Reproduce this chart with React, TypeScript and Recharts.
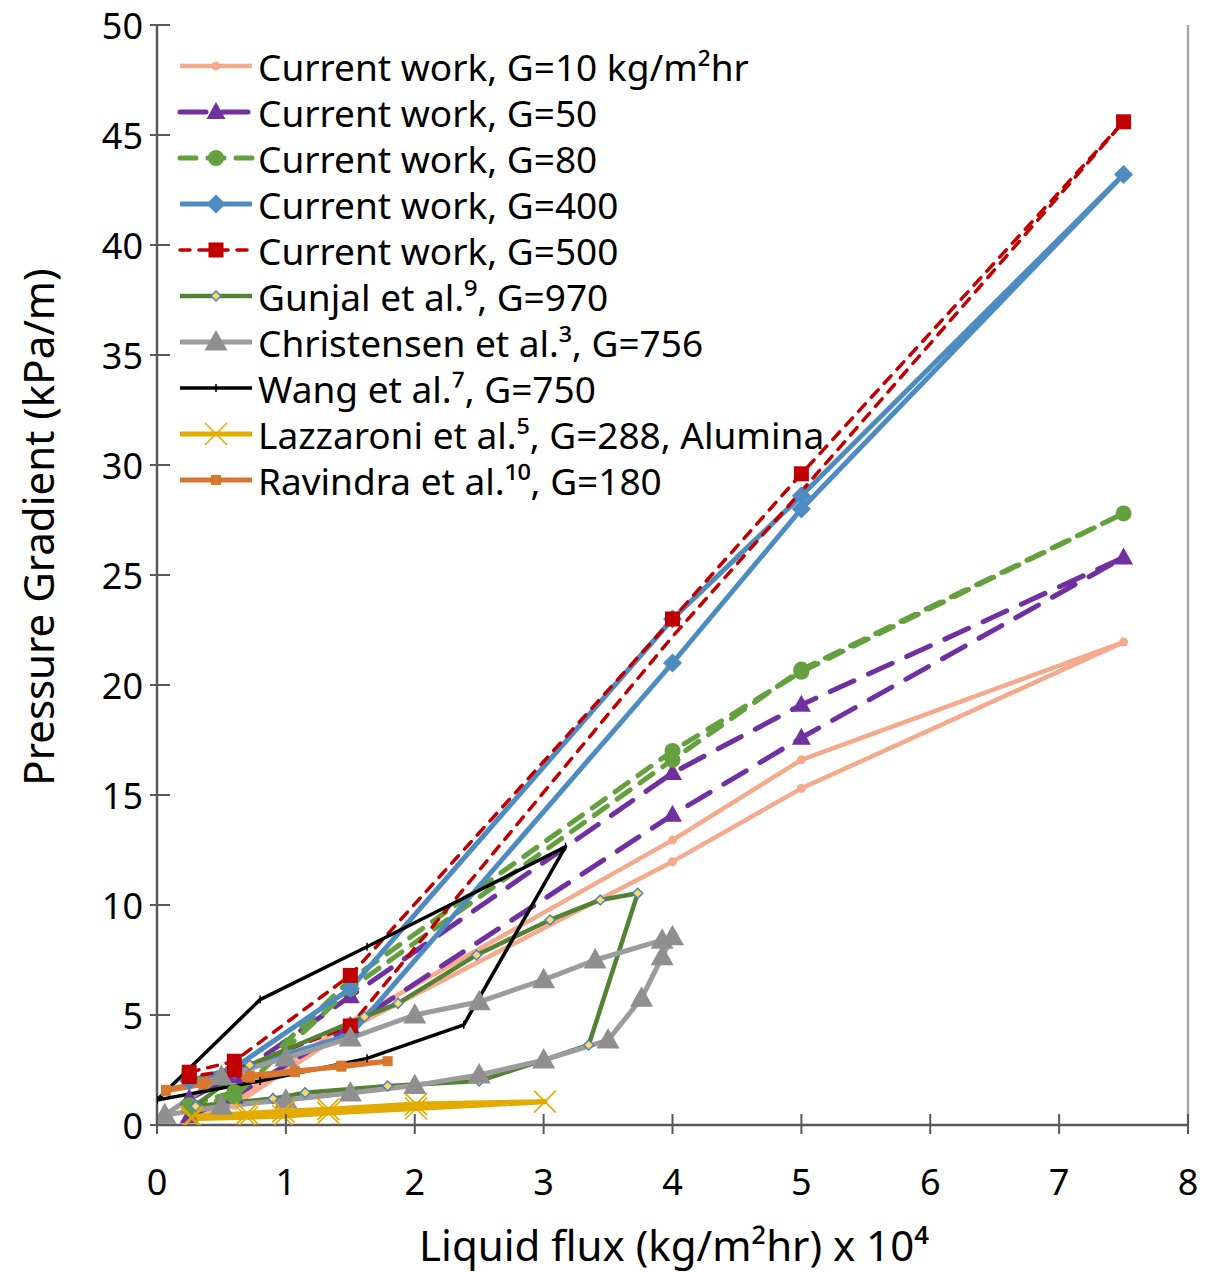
import { LineChart, Line, XAxis, YAxis, ReferenceLine } from 'recharts';

// current work: loading then unloading, same liquid flux steps
const CW_X = [0.25, 0.6, 1.5, 4, 5, 7.5, 5, 4, 1.5, 0.6, 0.25];
const G10_Y = [0.45, 1.1, 4.7, 12.95, 16.6, 21.95, 15.3, 11.97, 4.4, 0.9, 0.35];
const G50_Y = [0.4, 1.3, 4.5, 14.1, 17.6, 25.8, 19.1, 16.0, 5.85, 2.2, 1.2];
const G80_Y = [0.8, 1.3, 6.2, 16.6, 20.7, 27.8, 20.6, 17.0, 6.6, 1.5, 0.9];
const G400_Y = [2.0, 2.6, 6.2, 23.0, 28.6, 43.2, 28.0, 21.0, 4.1, 2.5, 2.0];
const G500_Y = [2.4, 2.9, 6.8, 23.0, 29.6, 45.6, 28.8, 22.2, 4.5, 2.5, 2.2];
// points of the G=500 unloading branch drawn without a marker
const G500_NO_MARK = [6, 7];

const GUN_X = [0.3, 0.72, 1.61, 1.87, 2.48, 3.05, 3.44, 3.73, 3.35, 3.0, 2.5, 1.79, 1.15, 0.9, 0.3];
const GUN_Y = [0.9, 2.73, 4.92, 5.53, 7.73, 9.32, 10.23, 10.53, 3.64, 2.95, 2.0, 1.77, 1.47, 1.2, 0.85];

const CHR_X = [0.06, 0.5, 1.0, 1.5, 2.0, 2.5, 3.0, 3.4, 3.92, 4.0, 3.92, 3.76, 3.5, 3.0, 2.5, 2.0, 1.5, 1.0, 0.5, 0.06];
const CHR_Y = [0.45, 2.2, 3.05, 3.95, 5.0, 5.6, 6.6, 7.5, 8.4, 8.56, 7.65, 5.76, 3.86, 2.95, 2.27, 1.8, 1.45, 1.14, 0.85, 0.45];

const WANG_X = [0, 0.8, 1.63, 3.17, 2.38, 1.63, 0.8, 0];
const WANG_Y = [1.14, 5.7, 8.1, 12.65, 4.55, 3.03, 2.0, 1.14];

const LAZ_X = [0.27, 0.7, 0.98, 1.33, 2.01, 3.01, 2.01, 1.33, 0.98, 0.7, 0.27];
const LAZ_Y = [0.38, 0.53, 0.62, 0.72, 0.95, 1.06, 0.75, 0.55, 0.4, 0.35, 0.28];

const RAV_X = [0.07, 0.36, 0.72, 1.07, 1.43, 1.79, 1.43, 1.07, 0.72, 0.36, 0.07];
const RAV_Y = [1.55, 1.85, 2.15, 2.4, 2.7, 2.9, 2.65, 2.45, 2.25, 1.95, 1.6];

const X_TICKS = [0, 1, 2, 3, 4, 5, 6, 7, 8];
const Y_TICKS = [0, 5, 10, 15, 20, 25, 30, 35, 40, 45, 50];

const FONT = '"Noto Sans", sans-serif';
const AXIS = '#595959';

const pts = (xs: number[], ys: number[]) => xs.map((x, i) => ({ x, y: ys[i] }));

const series = [
  { name: 'Current work, G=10 kg/m²hr', data: pts(CW_X, G10_Y), color: '#F4AA8C', width: 4.5, dash: undefined, mark: 'dot', noMark: [] as number[] },
  { name: 'Current work, G=50', data: pts(CW_X, G50_Y), color: '#7030A0', width: 5, dash: '26 16', mark: 'tri', noMark: [] },
  { name: 'Current work, G=80', data: pts(CW_X, G80_Y), color: '#65A03F', width: 5, dash: '16 12', mark: 'circle', noMark: [] },
  { name: 'Current work, G=400', data: pts(CW_X, G400_Y), color: '#4E8BC1', width: 5, dash: undefined, mark: 'diamond', noMark: [] },
  { name: 'Current work, G=500', data: pts(CW_X, G500_Y), color: '#C00000', width: 3.5, dash: '10 9', mark: 'square', noMark: G500_NO_MARK },
  { name: 'Gunjal et al.⁹, G=970', data: pts(GUN_X, GUN_Y), color: '#548235', width: 4.5, dash: undefined, mark: 'smallDiamond', noMark: [] },
  { name: 'Christensen et al.³, G=756', data: pts(CHR_X, CHR_Y), color: '#9C9C9C', width: 5, dash: undefined, mark: 'bigTri', noMark: [] },
  { name: 'Wang et al.⁷, G=750', data: pts(WANG_X, WANG_Y), color: '#000000', width: 3.5, dash: undefined, mark: 'tick', noMark: [] },
  { name: 'Lazzaroni et al.⁵, G=288, Alumina', data: pts(LAZ_X, LAZ_Y), color: '#E3AB00', width: 5, dash: undefined, mark: 'x', noMark: [] },
  { name: 'Ravindra et al.¹⁰, G=180', data: pts(RAV_X, RAV_Y), color: '#D9772F', width: 5, dash: undefined, mark: 'smallSquare', noMark: [] },
];

function marker(kind: string, cx: number, cy: number, c: string, key?: string) {
  switch (kind) {
    case 'dot':
      return <circle key={key} cx={cx} cy={cy} r={4.5} fill={c} />;
    case 'circle':
      return <circle key={key} cx={cx} cy={cy} r={8} fill={c} />;
    case 'tri':
      return <polygon key={key} points={`${cx},${cy - 10} ${cx + 9.5},${cy + 7} ${cx - 9.5},${cy + 7}`} fill={c} />;
    case 'bigTri':
      return <polygon key={key} points={`${cx},${cy - 12} ${cx + 11.5},${cy + 8.5} ${cx - 11.5},${cy + 8.5}`} fill="#8F8F8F" />;
    case 'diamond':
      return <polygon key={key} points={`${cx},${cy - 9.5} ${cx + 9.5},${cy} ${cx},${cy + 9.5} ${cx - 9.5},${cy}`} fill={c} />;
    case 'square':
      return <rect key={key} x={cx - 7.5} y={cy - 7.5} width={15} height={15} fill={c} />;
    case 'smallDiamond':
      return <polygon key={key} points={`${cx},${cy - 5} ${cx + 5},${cy} ${cx},${cy + 5} ${cx - 5},${cy}`} fill="#FFD966" stroke="#4F81BD" strokeWidth={1.5} />;
    case 'tick':
      return <line key={key} x1={cx} x2={cx} y1={cy - 4} y2={cy + 4} stroke={c} strokeWidth={1.5} />;
    case 'x':
      return (
        <g key={key} stroke={c} strokeWidth={1.6}>
          <line x1={cx - 11} y1={cy - 11} x2={cx + 11} y2={cy + 11} />
          <line x1={cx - 11} y1={cy + 11} x2={cx + 11} y2={cy - 11} />
        </g>
      );
    case 'smallSquare':
      return <rect key={key} x={cx - 5} y={cy - 5} width={10} height={10} fill={c} />;
    default:
      return <g key={key} />;
  }
}

const YTick = (p: any) => {
  const ax = p.x + 14;
  return (
    <g>
      <line x1={ax - 7} x2={ax + 13} y1={p.y} y2={p.y} stroke={AXIS} strokeWidth={2} />
      <text x={p.x} y={p.y} textAnchor="end" dominantBaseline="central" fontSize={36} fontFamily={FONT} fill="#000">
        {p.payload.value}
      </text>
    </g>
  );
};

const XTick = (p: any) => {
  const ay = p.y;
  return (
    <g>
      <line x1={p.x} x2={p.x} y1={ay - 13} y2={ay + 7} stroke={AXIS} strokeWidth={2} />
      <text x={p.x} y={ay + 68} textAnchor="middle" fontSize={36} fontFamily={FONT} fill="#000">
        {p.payload.value}
      </text>
    </g>
  );
};

function ChartLegend() {
  return (
    <svg width={900} height={520} style={{ position: 'absolute', left: 0, top: 0, pointerEvents: 'none' }}>
      {series.map((s, i) => {
        const y = 66 + i * 46;
        return (
          <g key={s.name}>
            <line x1={180} x2={252} y1={y} y2={y} stroke={s.color} strokeWidth={s.width} strokeDasharray={s.dash} strokeLinecap={s.dash ? 'round' : 'butt'} />
            {marker(s.mark, 216, y, s.color)}
            <text x={258} y={y} dominantBaseline="central" fontSize={37} fontFamily={FONT} fill="#000">
              {s.name}
            </text>
          </g>
        );
      })}
    </svg>
  );
}

export default function App() {
  return (
    <div style={{ position: 'relative', width: 1207, height: 1272, margin: '-8px 0 0 -8px' }}>
      <LineChart width={1207} height={1272} margin={{ top: 25, right: 19, left: 57, bottom: 67 }}>
        <XAxis
          type="number"
          dataKey="x"
          domain={[0, 8]}
          ticks={X_TICKS}
          allowDataOverflow
          height={80}
          tickSize={0}
          tickLine={false}
          tick={<XTick />}
          axisLine={{ stroke: AXIS, strokeWidth: 2.5 }}
          label={{
            content: () => (
              <text x={674} y={1244} textAnchor="middle" dominantBaseline="central" fontSize={42} fontFamily={FONT} fill="#000">
                Liquid flux (kg/m²hr) x 10⁴
              </text>
            ),
          }}
        />
        <YAxis
          type="number"
          domain={[0, 50]}
          ticks={Y_TICKS}
          allowDataOverflow
          width={100}
          tickSize={0}
          tickMargin={14}
          tickLine={false}
          tick={<YTick />}
          axisLine={{ stroke: AXIS, strokeWidth: 2.5 }}
          label={{
            content: () => (
              <text
                x={37}
                y={527}
                transform="rotate(-90 37 527)"
                textAnchor="middle"
                dominantBaseline="central"
                fontSize={42}
                fontFamily={FONT}
                fill="#000"
              >
                Pressure Gradient (kPa/m)
              </text>
            ),
          }}
        />
        <ReferenceLine x={8} stroke="#A6A6A6" strokeWidth={2.5} />
        {series.map((s) => (
          <Line
            key={s.name}
            data={s.data}
            dataKey="y"
            type="linear"
            stroke={s.color}
            strokeWidth={s.width}
            strokeDasharray={s.dash}
            strokeLinecap={s.dash ? 'round' : 'butt'}
            strokeLinejoin="round"
            dot={(p: any) =>
              s.noMark.includes(p.index)
                ? <g key={`${s.name}-${p.index}`} />
                : marker(s.mark, p.cx, p.cy, s.color, `${s.name}-${p.index}`)
            }
            activeDot={false}
            isAnimationActive={false}
          />
        ))}
      </LineChart>
      <ChartLegend />
    </div>
  );
}
